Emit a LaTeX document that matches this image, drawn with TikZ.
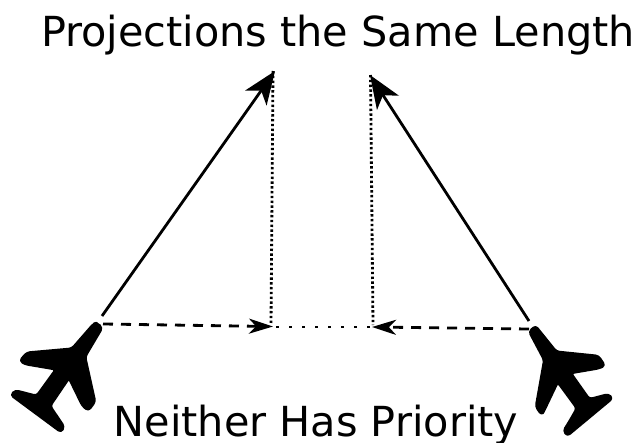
\documentclass[tikz,border=0pt]{standalone}
\usepackage{fontspec}
\setmainfont{DejaVu Sans}
\usetikzlibrary{arrows.meta}
\tikzset{
  label text/.style={inner sep=0pt,anchor=base,font=\fontsize{41.4}{48}\selectfont,text=black},
  plane/.style={fill=black,draw=black,line width=2.5pt,line join=round,rounded corners=3pt},
  course/.style={line width=2.8pt,-{Stealth[length=33pt,width=26pt,inset=9pt]}},
  projection/.style={line width=2.8pt,dash pattern=on 10pt off 8pt,-{Stealth[length=24pt,width=15pt,inset=7pt]}},
  guide/.style={line width=2.8pt,dash pattern=on 2.4pt off 2.4pt},
  gap/.style={line width=2.8pt,dash pattern=on 2.6pt off 10.4pt}
}
\begin{document}
\begin{tikzpicture}[x=1pt,y=-1pt]
\useasboundingbox (0,0) rectangle (637,442);
\node[label text] (title) at (338,46.5) {Projections the Same Length};
\node[label text] (caption) at (316,436) {Neither Has Priority};
\coordinate (leftstart) at (102,316);
\coordinate (lefttip) at (275,71);
\coordinate (rightstart) at (529,321);
\coordinate (righttip) at (370,75);
\coordinate (leftfoot) at (273,326.5);
\coordinate (rightfoot) at (372,327);
\coordinate (leftdash) at (103,324);
\coordinate (rightdash) at (529,329);
\coordinate (lefttop) at (273,71);
\coordinate (righttop) at (370.5,75);
\coordinate (leftbottom) at (271,325);
\coordinate (rightbottom) at (373,325);
\draw[plane] (102,328) -- (85,356.7) -- (95,401.7) -- (88.3,410.5) -- (82.5,405.7) -- (69,378) -- (50,406) -- (64,426.7) -- (61,432) -- (11,395) -- (15.5,390.5) -- (36.7,396) -- (56,369.3) -- (25,364) -- (20,360.7) -- (27,352.7) -- (72,348.7) -- (93.8,323.7) -- (97,323) -- cycle;
\draw[plane] (529.3,331.7) -- (535.5,326) -- (556.2,351.7) -- (598.3,356) -- (604.7,365.7) -- (598.3,368.3) -- (570.7,373) -- (589.3,399.3) -- (608.3,394.3) -- (612.3,398.3) -- (567.3,435.7) -- (563.7,430.7) -- (569.3,421.7) -- (577,408.3) -- (557.7,382) -- (544,410.7) -- (541.7,414.7) -- (536,406.7) -- (544.3,360) -- cycle;
\draw[course] (leftstart) -- (lefttip);
\draw[course] (rightstart) -- (righttip);
\draw[guide] (lefttop) -- (leftbottom);
\draw[guide] (righttop) -- (rightbottom);
\draw[projection] (leftdash) -- (leftfoot);
\draw[projection] (rightdash) -- (rightfoot);
\draw[gap] (leftfoot) ++(3,0.5) -- (rightfoot);
\end{tikzpicture}
\end{document}
